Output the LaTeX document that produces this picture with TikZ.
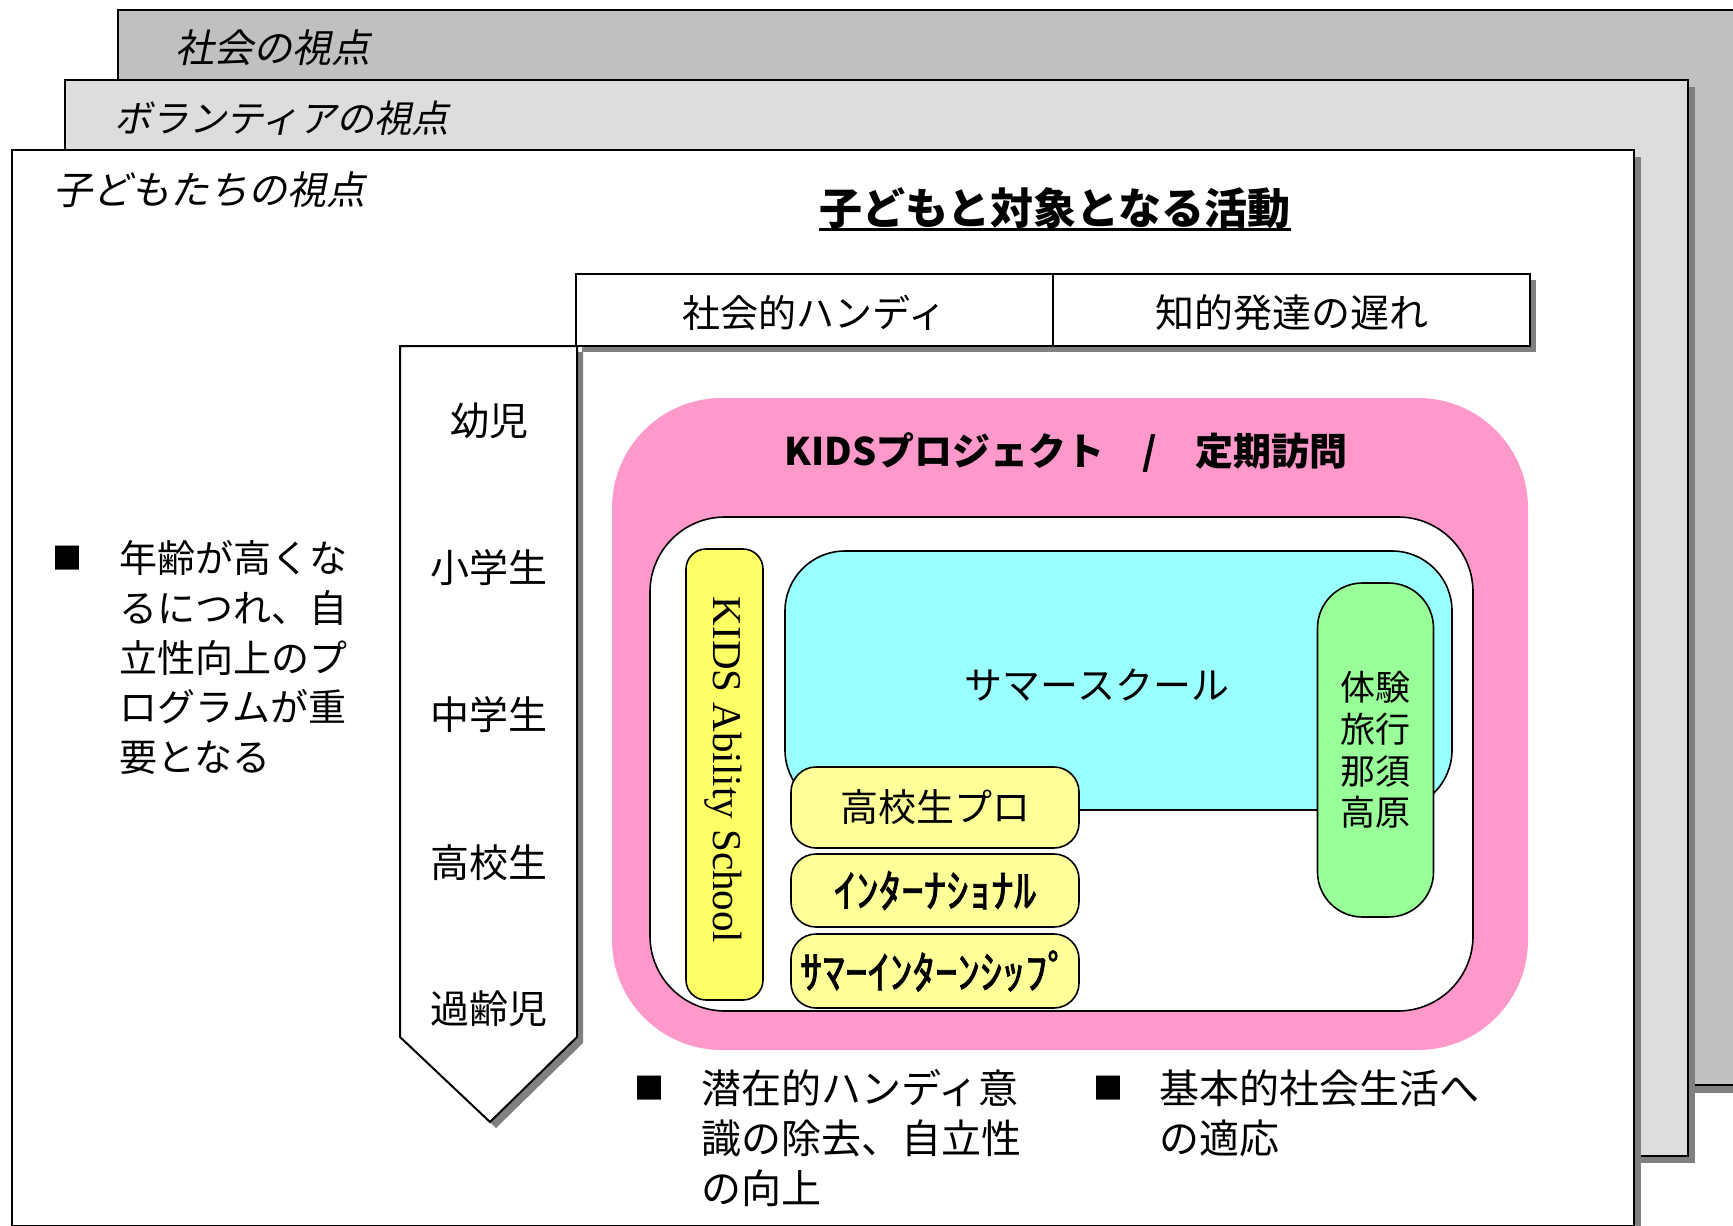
\documentclass[tikz,border=0pt]{standalone}
\usepackage{fontspec}
\setmainfont{Liberation Serif}
\newfontfamily\jp{Noto Sans CJK JP}
\newfontfamily\jpm[FakeBold=1.6]{Noto Sans CJK JP}
\newfontfamily\jpit[FakeSlant=0.2]{Noto Sans CJK JP}
\definecolor{backgray}{HTML}{C0C0C0}
\definecolor{midgray}{HTML}{DDDDDD}
\definecolor{shadowgray}{HTML}{808080}
\definecolor{pinkc}{HTML}{FF99CC}
\definecolor{cyanc}{HTML}{99FFFF}
\definecolor{greenc}{HTML}{99FF99}
\definecolor{kyellow}{HTML}{FFFF66}
\definecolor{lyellow}{HTML}{FFFF99}
\begin{document}
\begin{tikzpicture}[x=1pt,y=-1pt,
  panel/.style={draw=black,line width=2},
  ptitle/.style={font=\jpit\fontsize{39}{45}\selectfont, inner sep=0},
  jtxt/.style={font=\jp\fontsize{38}{49.7}\selectfont, inner sep=0},
  btxt/.style={font=\jp\fontsize{40}{49.7}\selectfont, inner sep=0},
  bul/.style={font=\jp\fontsize{30}{30}\selectfont, inner sep=0},
  rbox/.style={draw=black, line width=1.6, inner sep=0},
  hwk/.style={font=\jpm\fontsize{45}{45}\selectfont, inner sep=0}
]
\useasboundingbox (0,0) rectangle (1733,1226);
\clip (0,0) rectangle (1733,1226);
\fill[white] (0,0) rectangle (1733,1226);

% back panel
\fill[shadowgray] (125,17) rectangle (1770,1093);
\draw[panel, fill=backgray] (118,10) rectangle (1770,1085);
\node[ptitle, anchor=west] (tsoc) at (175,48) {社会の視点};

% middle panel
\fill[shadowgray] (72,87) rectangle (1695,1163);
\draw[panel, fill=midgray] (65,80) rectangle (1688,1156);
\node[ptitle, anchor=west, font=\jpit\fontsize{37.5}{45}\selectfont] (tvol) at (114,118) {ボランティアの視点};

% front panel
\fill[shadowgray] (19,157) rectangle (1641,1240);
\draw[panel, fill=white] (12,150) rectangle (1634,1226);
\node[ptitle, anchor=west] (tkid) at (53,190) {子どもたちの視点};

% title
\node[font=\jp\bfseries\fontsize{43}{50}\selectfont, inner sep=0] (title) at (1055,208) {子どもと対象となる活動};
\coordinate (ulY) at (0,229);
\draw[line width=3] (title.west |- ulY) -- (title.east |- ulY);

% header table
\fill[shadowgray] (582,280) rectangle (1536,352);
\node[draw=black, line width=2, fill=white, minimum width=477, minimum height=72, inner sep=0] (h1) at (814.5,310) {};
\node[draw=black, line width=2, fill=white, minimum width=477, minimum height=72, inner sep=0] (h2) at (1291.5,310) {};
\node[jtxt] (h1t) at (814.5,313) {社会的ハンディ};
\node[jtxt, font=\jp\fontsize{39}{49.7}\selectfont] (h2t) at (1291.5,313) {知的発達の遅れ};

% age arrow
\fill[shadowgray] (406,352) -- (583,352) -- (583,1043) -- (496,1128) -- (406,1043) -- cycle;
\draw[line width=2, fill=white, line join=miter] (400,346) -- (577,346) -- (577,1037) -- (490,1122) -- (400,1037) -- cycle;
\node[jtxt, font=\jp\fontsize{39}{49.7}\selectfont] (a1) at (489,421) {幼児};
\node[jtxt, font=\jp\fontsize{39}{49.7}\selectfont] (a2) at (489,568) {小学生};
\node[jtxt, font=\jp\fontsize{39}{49.7}\selectfont] (a3) at (489,715) {中学生};
\node[jtxt, font=\jp\fontsize{39}{49.7}\selectfont] (a4) at (489,863) {高校生};
\node[jtxt, font=\jp\fontsize{39}{49.7}\selectfont] (a5) at (489,1009) {過齢児};

% left text
\node[bul] (lb) at (67,558) {■};
\node[jtxt, anchor=west, align=left] (lt) at (119,657.5) {年齢が高くな\\るにつれ、自\\立性向上のプ\\ログラムが重\\要となる};

% activities
\node[fill=pinkc, rounded corners=110, minimum width=916, minimum height=652, inner sep=0] (pink) at (1070,724) {};
\node[font=\jp\bfseries\fontsize{38}{40}\selectfont, inner sep=0] (pinkt) at (1066,453) {KIDSプロジェクト\quad /\quad 定期訪問};
\node[rbox, fill=white, rounded corners=75, minimum width=823, minimum height=494] (wbox) at (1061.5,764) {};
\node[rbox, fill=kyellow, rounded corners=20, minimum width=77, minimum height=451] (kas) at (724.5,774.5) {};
\node[rotate=-90, font=\fontsize{41}{41}\selectfont, inner sep=0] (kast) at (723,770) {KIDS Ability School};
\node[rbox, fill=cyanc, rounded corners=60, minimum width=667, minimum height=259] (ss) at (1118.5,680.5) {};
\node[jtxt] (sst) at (1097,685) {サマースクール};
\node[rbox, fill=greenc, rounded corners=45, minimum width=116, minimum height=334, align=center, font=\jp\fontsize{35}{41.7}\selectfont] (trip) at (1375.5,750) {体験\\旅行\\那須\\高原};
\node[rbox, fill=lyellow, rounded corners=25, minimum width=288, minimum height=81, font=\jp\fontsize{38}{40}\selectfont] (hsp) at (935,807.5) {高校生プロ};
\node[rbox, fill=lyellow, rounded corners=25, minimum width=288, minimum height=73, hwk] (intl) at (935,890.5) {ｲﾝﾀｰﾅｼｮﾅﾙ};
\node[rbox, fill=lyellow, rounded corners=25, minimum width=288, minimum height=74, hwk] (sint) at (935,971) {ｻﾏｰｲﾝﾀｰﾝｼｯﾌﾟ};

% bottom notes
\node[bul] (b1) at (649,1088) {■};
\node[btxt, anchor=west, align=left] (b1t) at (701,1138) {潜在的ハンディ意\\識の除去、自立性\\の向上};
\node[bul] (b2) at (1108,1088) {■};
\node[btxt, anchor=west, align=left] (b2t) at (1159,1113) {基本的社会生活へ\\の適応};
\end{tikzpicture}
\end{document}
